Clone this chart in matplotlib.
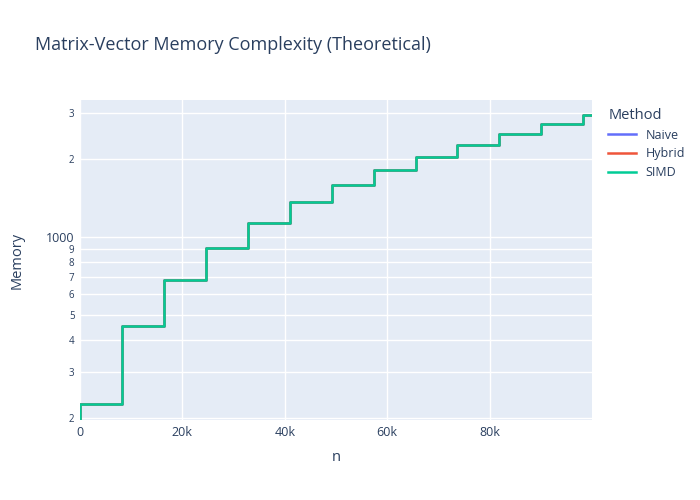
import numpy as np
import matplotlib
matplotlib.use('Agg')
import matplotlib.pyplot as plt
from matplotlib.ticker import FixedLocator, NullLocator

# step edges (n) and memory per step
n_edges = [0, 0, 8192, 16384, 24576, 32768, 40960, 49152, 57344, 65536,
           73728, 81920, 90112, 98304, 100000]
memory = [0, 227, 454, 681, 908, 1135, 1362, 1589, 1816, 2043,
          2270, 2497, 2724, 2951, 2951]

methods = ['Naive', 'Hybrid', 'SIMD']
colors = ['#636efa', '#EF553B', '#00cc96']

y_ticks = [200, 300, 400, 500, 600, 700, 800, 900, 1000, 2000, 3000]
y_labels = ['2', '3', '4', '5', '6', '7', '8', '9', '1000', '2', '3']
x_ticks = [0, 20000, 40000, 60000, 80000]
x_labels = ['0', '20k', '40k', '60k', '80k']

txt = '#2a3f5f'
plt.rcParams['font.family'] = ['Open Sans', 'DejaVu Sans']

fig = plt.figure(figsize=(7, 5), dpi=100)
ax = fig.add_axes([80/700, 1-420/500, 512/700, 320/500])
ax.set_facecolor('#E5ECF6')

for m, c in zip(methods, colors):
    ax.plot(n_edges, memory, drawstyle='steps-post', color=c, lw=1.8, label=m)

ax.set_yscale('log', nonpositive='clip')
ax.set_ylim(196, 3383)
ax.set_xlim(0, 100000)

ax.yaxis.set_major_locator(FixedLocator(y_ticks))
ax.yaxis.set_minor_locator(NullLocator())
ax.set_yticklabels(y_labels)
for lab, v in zip(ax.get_yticklabels(), y_ticks):
    lab.set_fontsize(9 if v == 1000 else 7)
    lab.set_color(txt)
ax.set_xticks(x_ticks)
ax.set_xticklabels(x_labels, fontsize=9, color=txt)

ax.grid(True, color='white', lw=1)
ax.set_axisbelow(True)
ax.tick_params(length=0, pad=4)
for s in ax.spines.values():
    s.set_visible(False)

ax.set_xlabel('n', fontsize=10.5, color=txt, labelpad=8)
ax.set_ylabel('Memory', fontsize=10.5, color=txt, labelpad=15)
fig.text(35/700, 1-45/500, 'Matrix-Vector Memory Complexity (Theoretical)',
         fontsize=13, color=txt, va='center')

leg = ax.legend(loc='upper left', bbox_to_anchor=(1.01, 1.01), frameon=False,
                title='Method', fontsize=9, title_fontsize=10.5,
                handlelength=2.2, labelspacing=0.45, alignment='left')
for t in leg.get_texts():
    t.set_color(txt)
leg.get_title().set_color(txt)

fig.savefig('out.png', dpi=100)
